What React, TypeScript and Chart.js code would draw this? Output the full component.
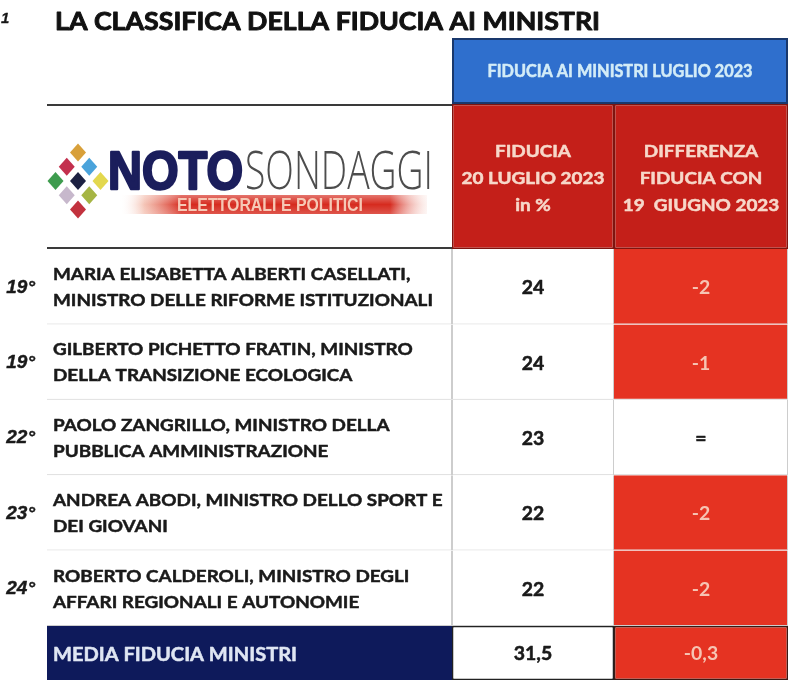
import React, { useEffect, useRef } from "react";
import { Chart, registerables } from "chart.js";

Chart.register(...registerables);

// ---------------- data ----------------
const TITLE = "LA CLASSIFICA DELLA FIDUCIA AI MINISTRI";
const PAGE_MARK = "1";
const GROUP_HEADER = "FIDUCIA AI MINISTRI LUGLIO 2023";
const FIDUCIA_HEADER = ["FIDUCIA", "20 LUGLIO 2023", "in %"];
const DIFF_HEADER = ["DIFFERENZA", "FIDUCIA CON", "19  GIUGNO 2023"];
const RANKS = ["19°", "19°", "22°", "23°", "24°"];
const MINISTER_LINE_1 = [
  "MARIA ELISABETTA ALBERTI CASELLATI,",
  "GILBERTO PICHETTO FRATIN, MINISTRO",
  "PAOLO ZANGRILLO, MINISTRO DELLA",
  "ANDREA ABODI, MINISTRO DELLO SPORT E",
  "ROBERTO CALDEROLI, MINISTRO DEGLI",
];
const MINISTER_LINE_2 = [
  "MINISTRO DELLE RIFORME ISTITUZIONALI",
  "DELLA TRANSIZIONE ECOLOGICA",
  "PUBBLICA AMMINISTRAZIONE",
  "DEI GIOVANI",
  "AFFARI REGIONALI E AUTONOMIE",
];
const FIDUCIA = [24, 24, 23, 22, 22];
const DIFFERENZA = [-2, -1, 0, -2, -2];
const AVERAGE_LABEL = "MEDIA FIDUCIA MINISTRI";
const AVERAGE_FIDUCIA = 31.5;
const AVERAGE_DIFFERENZA = -0.3;
const LOGO_BOLD = "NOTO";
const LOGO_LIGHT = "SONDAGGI";
const LOGO_TAGLINE = "ELETTORALI E POLITICI";

// ---------------- layout ----------------
const COL_WIDTHS = [405, 162, 174];
const ROW_HEIGHTS = [66, 145, 75.4, 75.4, 75.4, 75.4, 75.4, 54];
const CANVAS_W = 800;
const CANVAS_H = 691;
const PAD_LEFT = 47;
const PAD_TOP = 38;

const cumulative = (a: number[]) => a.reduce((acc: number[], v) => { acc.push(acc[acc.length - 1] + v); return acc; }, [0]);
const X_EDGES = cumulative(COL_WIDTHS);
const Y_EDGES = cumulative(ROW_HEIGHTS);
const TABLE_W = X_EDGES[X_EDGES.length - 1];
const TABLE_H = Y_EDGES[Y_EDGES.length - 1];

// ---------------- colours / fonts ----------------
const WHITE = "#ffffff";
const NAVY = "#0e1a5b";
const BLUE = "#2f6fcd";
const BLUE_BORDER = "#19386c";
const HEADER_RED = "#c41f19";
const HEADER_RED_BORDER = "#7e140f";
const RED = "#e53322";
const LIGHT_LINE = "#cdcdcd";
const DARK_LINE = "#3a3a3a";
const INK = "#1a1a1a";
const FONT = "Lato, 'Open Sans', sans-serif";
const CAP = 0.716;

const fmt = (v: number) => v.toString().replace(".", ",");
const fmtDiff = (v: number) => (v === 0 ? "=" : fmt(v));

const BODY_ROWS = FIDUCIA.map((_, i) => i + 2);
const FOOT_ROW = ROW_HEIGHTS.length - 1;
const cell = (c0: number, c1: number, r: number) => ({
  x: (X_EDGES[c0] + X_EDGES[c1 + 1]) / 2,
  y: [Y_EDGES[r], Y_EDGES[r + 1]],
});
const bodyBorder = { top: 0, right: 1, bottom: 1, left: 0 };

const bold = (size: number) => `bold ${size}px ${FONT}`;

function measure(ctx: CanvasRenderingContext2D, s: string, font: string) {
  ctx.font = font;
  return ctx.measureText(s).width;
}

// draws text whose cap-height is centred on yc, horizontally stretched by sx
function text(ctx: CanvasRenderingContext2D, s: string, x: number, yc: number, size: number, color: string, align: CanvasTextAlign = "left", sx = 1, font = bold(size), thick = 0.5) {
  ctx.save();
  ctx.font = font;
  ctx.fillStyle = color;
  ctx.strokeStyle = color;
  ctx.lineWidth = thick;
  ctx.lineJoin = "round";
  ctx.textAlign = align;
  ctx.textBaseline = "alphabetic";
  ctx.translate(x, yc + (size * CAP) / 2);
  ctx.scale(sx, 1);
  ctx.fillText(s, 0, 0);
  if (thick > 0) ctx.strokeText(s, 0, 0);
  ctx.restore();
}

function fitted(ctx: CanvasRenderingContext2D, s: string, x: number, yc: number, capH: number, font: string, color: string, width: number, thick = 0) {
  ctx.save();
  ctx.font = font;
  ctx.fillStyle = color;
  ctx.strokeStyle = color;
  ctx.lineWidth = thick;
  ctx.lineJoin = "round";
  ctx.textAlign = "left";
  ctx.textBaseline = "alphabetic";
  const w = ctx.measureText(s).width;
  ctx.translate(x, yc + capH / 2);
  ctx.scale(width / w, 1);
  ctx.fillText(s, 0, 0);
  if (thick > 0) ctx.strokeText(s, 0, 0);
  ctx.restore();
}

function drawLogo(ctx: CanvasRenderingContext2D, b: any) {
  const ox = b.left;
  const oy = b.top;
  const cx = ox + 31;
  const cy = oy + 77;
  const colors: Record<string, string> = {
    "-1,-1": "#d8a03a", "0,-1": "#4aa3db", "1,-1": "#e3d84e",
    "-1,0": "#c3304e", "0,0": "#1c2142", "1,0": "#a6b544",
    "-1,1": "#3e9c4e", "0,1": "#c7b8cc", "1,1": "#c2323e",
  };
  for (let i = -1; i <= 1; i++) {
    for (let j = -1; j <= 1; j++) {
      const x = cx + (i - j) * 11.25;
      const y = cy + (i + j) * 14.25;
      ctx.beginPath();
      ctx.moveTo(x, y - 9);
      ctx.lineTo(x + 8, y);
      ctx.lineTo(x, y + 9);
      ctx.lineTo(x - 8, y);
      ctx.closePath();
      ctx.fillStyle = colors[`${i},${j}`];
      ctx.fill();
    }
  }
  // red tagline bar
  const bx0 = ox + 73, bx1 = ox + 380, by0 = oy + 91, by1 = oy + 110;
  const g = ctx.createLinearGradient(bx0, 0, bx1, 0);
  g.addColorStop(0, "rgba(255,255,255,0)");
  g.addColorStop(0.08, "rgba(240,170,150,0.7)");
  g.addColorStop(0.2, "#d62b1f");
  g.addColorStop(0.88, "#d62b1f");
  g.addColorStop(1, "rgba(245,200,190,0.2)");
  ctx.fillStyle = g;
  ctx.fillRect(bx0, by0, bx1 - bx0, by1 - by0);
  const gv = ctx.createLinearGradient(0, by0, 0, by1);
  gv.addColorStop(0, "rgba(255,255,255,0.35)");
  gv.addColorStop(0.5, "rgba(255,255,255,0)");
  gv.addColorStop(1, "rgba(255,255,255,0.2)");
  ctx.fillStyle = gv;
  ctx.fillRect(bx0, by0, bx1 - bx0, by1 - by0);
  fitted(ctx, LOGO_TAGLINE, ox + 130, oy + 100.5, 13.6, "bold 19px 'Liberation Sans', sans-serif", "#f6c8b5", 186);
  fitted(ctx, LOGO_BOLD, ox + 61, oy + 65.5, 38.7, "bold 54px 'Liberation Sans', sans-serif", "#1b1e5c", 135, 2.5);
  fitted(ctx, LOGO_LIGHT, ox + 198, oy + 65.5, 38.6, "300 54px 'Open Sans', Lato, sans-serif", "#4d4d4d", 188);
}

const boxes = (chart: any, i: number) =>
  chart.getDatasetMeta(i).data.map((el: any) => {
    const p = el.getProps(["x", "y", "base", "width"], true);
    const top = Math.min(p.y, p.base);
    const bottom = Math.max(p.y, p.base);
    return { left: p.x - p.width / 2, right: p.x + p.width / 2, top, bottom, cx: p.x, cy: (top + bottom) / 2 };
  });

const tablePlugin = {
  id: "tableText",
  afterDatasetsDraw(chart: any) {
    const ctx: CanvasRenderingContext2D = chart.ctx;
    const area = chart.chartArea;
    const nome = boxes(chart, 0);
    const fid = boxes(chart, 1);
    const diff = boxes(chart, 2);
    const grp = boxes(chart, 3);

    // horizontal stretch factors to imitate the original typeface widths
    const bodySx = 380 / measure(ctx, MINISTER_LINE_2[0], bold(17.5));
    const titleSx = 545 / measure(ctx, TITLE, bold(24));
    const headSx = 143 / measure(ctx, FIDUCIA_HEADER[1], bold(17));
    const groupSx = 265 / measure(ctx, GROUP_HEADER, bold(16.5));
    const footSx = 244 / measure(ctx, AVERAGE_LABEL, bold(19.5));

    // title and page mark
    text(ctx, TITLE, area.left + 8, area.top - 16.5, 24, "#111111", "left", titleSx, bold(24), 0.9);
    text(ctx, PAGE_MARK, 1, area.top - 20, 15, "#161616", "left", 1, "italic bold 15px 'Liberation Sans', sans-serif", 0.3);
    // group header
    text(ctx, GROUP_HEADER, grp[0].cx, grp[0].cy, 16.5, "#d3ecf7", "center", groupSx);
    // logo
    drawLogo(ctx, nome[0]);
    // column headers
    FIDUCIA_HEADER.forEach((s, k) => text(ctx, s, fid[0].cx, fid[0].cy + 1 + (k - 1) * 27, 17, "#f7d8ca", "center", headSx));
    DIFF_HEADER.forEach((s, k) => text(ctx, s, diff[0].cx, diff[0].cy + 1 + (k - 1) * 27, 17, "#f7d8ca", "center", headSx));
    // body rows
    FIDUCIA.forEach((v, i) => {
      const n = nome[i + 1];
      text(ctx, RANKS[i], n.left - 12, n.cy - 1, 19, INK, "right", 1, "italic bold 19px 'Liberation Sans', sans-serif", 0.4);
      text(ctx, MINISTER_LINE_1[i], n.left + 6, n.cy - 13, 17.5, INK, "left", bodySx);
      text(ctx, MINISTER_LINE_2[i], n.left + 6, n.cy + 13, 17.5, INK, "left", bodySx);
      const f = fid[i + 1];
      text(ctx, fmt(v), f.cx, f.cy + 1, 18, INK, "center", bodySx);
      const d = diff[i + 1];
      text(ctx, fmtDiff(DIFFERENZA[i]), d.cx, d.cy + 1, 18, DIFFERENZA[i] < 0 ? "#f6c4b3" : INK, "center", bodySx, bold(18), DIFFERENZA[i] < 0 ? 0 : 0.5);
    });
    // footer
    const nf = nome[nome.length - 1];
    text(ctx, AVERAGE_LABEL, nf.left + 6, nf.cy + 1, 19.5, "#dfe6f3", "left", footSx);
    const ff = fid[fid.length - 1];
    text(ctx, fmt(AVERAGE_FIDUCIA), ff.cx, ff.cy + 1, 18, INK, "center", bodySx);
    const df = diff[diff.length - 1];
    text(ctx, fmtDiff(AVERAGE_DIFFERENZA), df.cx, df.cy + 1, 18, "#f6c4b3", "center", bodySx, bold(18), 0);
  },
};

function buildConfig(): any {
  return {
    type: "bar",
    data: {
      datasets: [
        {
          label: "Ministro",
          data: [cell(0, 0, 1), ...BODY_ROWS.map((r) => cell(0, 0, r)), cell(0, 0, FOOT_ROW)],
          barThickness: COL_WIDTHS[0],
          backgroundColor: [WHITE, ...BODY_ROWS.map(() => WHITE), NAVY],
          borderColor: [DARK_LINE, ...BODY_ROWS.map(() => LIGHT_LINE), NAVY],
          borderWidth: [{ top: 2, right: 0, bottom: 2, left: 0 }, ...BODY_ROWS.map(() => bodyBorder), 0],
        },
        {
          label: "Fiducia",
          data: [cell(1, 1, 1), ...BODY_ROWS.map((r) => cell(1, 1, r)), cell(1, 1, FOOT_ROW)],
          barThickness: COL_WIDTHS[1],
          backgroundColor: [HEADER_RED, ...BODY_ROWS.map(() => WHITE), WHITE],
          borderColor: [HEADER_RED_BORDER, ...BODY_ROWS.map(() => LIGHT_LINE), "#222222"],
          borderWidth: [1.5, ...BODY_ROWS.map(() => ({ top: 0, right: 1, bottom: 1, left: 1 })), 1.5],
        },
        {
          label: "Differenza",
          data: [cell(2, 2, 1), ...BODY_ROWS.map((r) => cell(2, 2, r)), cell(2, 2, FOOT_ROW)],
          barThickness: COL_WIDTHS[2],
          backgroundColor: [HEADER_RED, ...DIFFERENZA.map((d) => (d < 0 ? RED : WHITE)), RED],
          borderColor: [HEADER_RED_BORDER, ...BODY_ROWS.map(() => LIGHT_LINE), "#3a1a14"],
          borderWidth: [1.5, ...BODY_ROWS.map(() => bodyBorder), 1.5],
        },
        {
          label: "Intestazione",
          data: [cell(1, 2, 0)],
          barThickness: COL_WIDTHS[1] + COL_WIDTHS[2],
          backgroundColor: [BLUE],
          borderColor: [BLUE_BORDER],
          borderWidth: [2],
        },
      ],
    },
    options: {
      responsive: false,
      animation: false,
      events: [],
      layout: {
        padding: {
          left: PAD_LEFT,
          top: PAD_TOP,
          right: CANVAS_W - PAD_LEFT - TABLE_W,
          bottom: CANVAS_H - PAD_TOP - TABLE_H,
        },
      },
      datasets: { bar: { grouped: false, borderSkipped: false, inflateAmount: 0 } },
      plugins: { legend: { display: false }, tooltip: { enabled: false }, title: { display: false } },
      scales: {
        x: { type: "linear", min: 0, max: TABLE_W, offset: false, display: false },
        y: { type: "linear", min: 0, max: TABLE_H, reverse: true, offset: false, display: false },
      },
    },
    plugins: [tablePlugin],
  };
}

export default function App() {
  const ref = useRef<HTMLCanvasElement>(null);
  useEffect(() => {
    const chart = new Chart(ref.current as HTMLCanvasElement, buildConfig());
    return () => chart.destroy();
  }, []);
  return (
    <div style={{ position: "fixed", left: 0, top: 0, width: CANVAS_W, height: CANVAS_H, background: "#ffffff" }}>
      <canvas ref={ref} width={CANVAS_W} height={CANVAS_H} style={{ display: "block" }} />
    </div>
  );
}
